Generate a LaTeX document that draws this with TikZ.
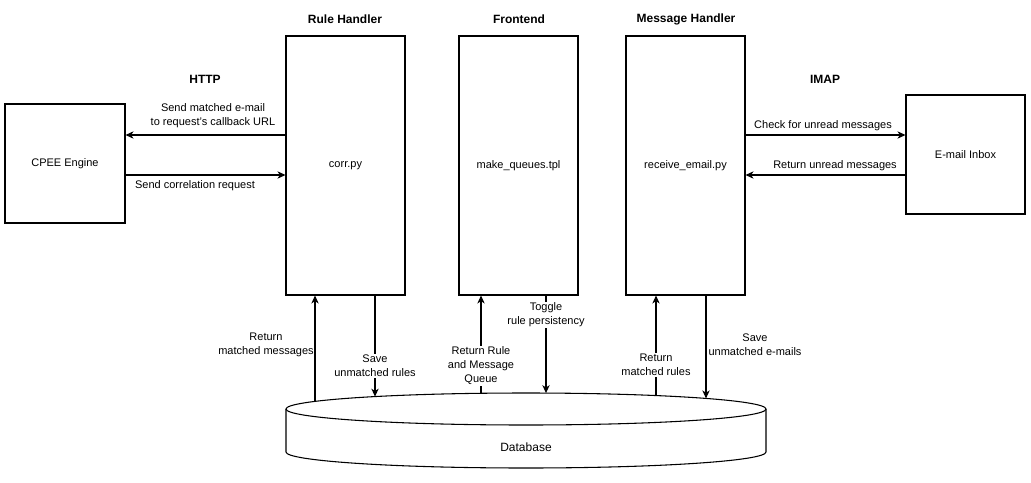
\documentclass[tikz,border=0pt]{standalone}
\usepackage{fontspec}
\setmainfont{Liberation Sans}
\usetikzlibrary{arrows.meta}
\begin{document}
\begin{tikzpicture}[x=0.75pt,y=-0.75pt,
  box/.style={draw,line width=0.8pt,inner sep=0pt},
  lbl/.style={font=\fontsize{8.25}{10.5}\selectfont,align=center,inner sep=1pt},
  wlbl/.style={lbl,fill=white},
  ttl/.style={font=\fontsize{9}{11}\selectfont\bfseries},
  arr/.style={line width=0.8pt,-{Stealth[length=6pt,width=5.5pt,inset=1.8pt]}}]
\useasboundingbox (0,0) rectangle (1031,482);
% boxes
\node[box,minimum width=90pt,minimum height=89.25pt] (cpee) at (65,163.5) {\fontsize{8.25}{10}\selectfont CPEE Engine};
\node[box,minimum width=89.25pt,minimum height=194.25pt] (corr) at (345.5,165.5) {\fontsize{8.25}{10}\selectfont corr.py};
\node[box,minimum width=89.25pt,minimum height=194.25pt] (front) at (518.5,165.5) {\fontsize{8.25}{10}\selectfont make\_queues.tpl};
\node[box,minimum width=89.25pt,minimum height=194.25pt] (recv) at (685.5,165.5) {\fontsize{8.25}{10}\selectfont receive\_email.py};
\node[box,minimum width=89.25pt,minimum height=89.25pt] (inbox) at (965.5,154.5) {\fontsize{8.25}{10}\selectfont E-mail Inbox};
% titles
\node[ttl] (t1) at (345,19) {Rule Handler};
\node[ttl] (t2) at (519,19) {Frontend};
\node[ttl] (t3) at (686,19) {Message Handler};
\node[ttl] (t4) at (205,79) {HTTP};
\node[ttl] (t5) at (825,79) {IMAP};
% database cylinder
\draw[line width=0.8pt,fill=white] (286,409) -- (286,452) arc[start angle=180,end angle=360,x radius=180pt,y radius=12pt] -- (766,409);
\draw[line width=0.8pt] (526,409) ellipse[x radius=180pt,y radius=12pt];
\node[font=\fontsize{9}{11}\selectfont] (db) at (526,447) {Database};
\coordinate (d1) at (315,401.4);
\coordinate (d2) at (375,396.6);
\coordinate (d3) at (481,393.3);
\coordinate (d4) at (546,393.1);
\coordinate (d5) at (656,395.5);
\coordinate (d6) at (706,398.4);
% horizontal connectors
\draw[arr] (corr.west |- 0,135) -- (cpee.east |- 0,135);
\draw[arr] (cpee.east |- 0,175) -- (corr.west |- 0,175);
\draw[arr] (recv.east |- 0,135) -- (inbox.west |- 0,135);
\draw[arr] (inbox.west |- 0,175) -- (recv.east |- 0,175);
\node[lbl] (l1) at (213,116) {Send matched e-mail\\to request's callback URL};
\node[lbl] (l2) at (195,186) {Send correlation request};
\node[lbl] (l3) at (823,126) {Check for unread messages};
\node[lbl] (l4) at (835,166) {Return unread messages};
% vertical connectors
\draw[arr] (d1) -- (d1 |- corr.south);
\draw[arr] (d2 |- corr.south) -- (d2);
\draw[arr] (d3) -- (d3 |- front.south);
\draw[arr] (d4 |- front.south) -- (d4);
\draw[arr] (d5) -- (d5 |- recv.south);
\draw[arr] (d6 |- recv.south) -- (d6);
\node[lbl] (v1) at (266,345) {Return\\matched messages};
\node[wlbl] (v2) at (375,366) {Save\\unmatched rules};
\node[wlbl] (v3) at (481,366) {Return Rule\\and Message\\Queue};
\node[wlbl] (v4) at (546,315) {Toggle\\rule persistency};
\node[wlbl] (v5) at (656,365) {Return\\matched rules};
\node[lbl] (v6) at (755,345) {Save\\unmatched e-mails};
\end{tikzpicture}
\end{document}
